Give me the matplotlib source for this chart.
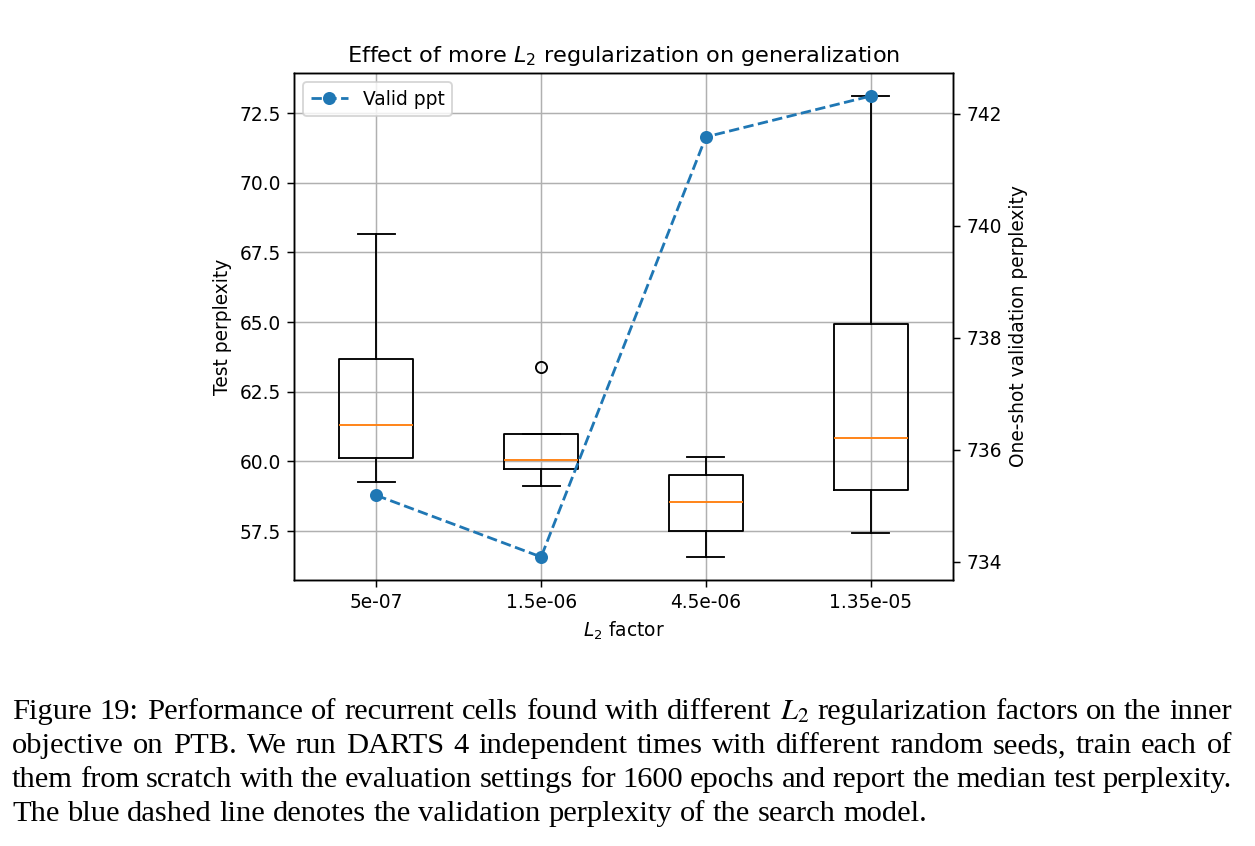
import numpy as np
import matplotlib
matplotlib.use("Agg")
import matplotlib.pyplot as plt

# L2 factors used for the search, test perplexity of 4 seeds each, one-shot valid ppl
factors = ["5e-07", "1.5e-06", "4.5e-06", "1.35e-05"]
test_ppl = [
    [59.26, 60.41, 62.17, 68.16],
    [59.12, 59.92, 60.18, 63.39],
    [56.57, 57.81, 59.29, 60.16],
    [57.43, 59.48, 62.20, 73.11],
]
valid_ppl = [735.19, 734.09, 741.59, 742.32]

caption = [
    "Figure 19: Performance of recurrent cells found with different $L_2$ regularization factors on the inner",
    "objective on PTB. We run DARTS 4 independent times with different random seeds, train each of",
    "them from scratch with the evaluation settings for 1600 epochs and report the median test perplexity.",
    "The blue dashed line denotes the validation perplexity of the search model.",
]

W, H, DPI = 1255, 846, 134
fig = plt.figure(figsize=(W / DPI, H / DPI), dpi=DPI)
ax = fig.add_axes([294 / W, 1 - 580 / H, (953 - 294) / W, (580 - 73) / H])

pos = np.arange(1, len(factors) + 1)
ax.boxplot(test_ppl, positions=pos)
ax.set_xticks(pos)
ax.set_xticklabels(factors)
ax.grid(True)
ax.set_xlabel("$L_2$ factor")
ax.set_ylabel("Test perplexity")
ax.set_title("Effect of more $L_2$ regularization on generalization")

ax2 = ax.twinx()
ax2.plot(pos, valid_ppl, "o--", label="Valid ppt")
ax2.set_ylabel("One-shot validation perplexity")
ax2.legend(loc="upper left")

# caption, justified word by word like the LaTeX original
fig.canvas.draw()
rend = fig.canvas.get_renderer()
x0, x1 = 12, 1232
baselines = [719, 753, 787, 821]
cap_size = 18.3 * 120 / DPI
for i, line in enumerate(caption):
    words = line.split(" ")
    texts = [fig.text(0, 0, w, fontsize=cap_size, family="Liberation Serif",
                      math_fontfamily="stix", va="baseline") for w in words]
    widths = [t.get_window_extent(rend).width for t in texts]
    space = cap_size * DPI / 72 * 0.25
    if i < len(caption) - 1:
        space = (x1 - x0 - sum(widths)) / (len(words) - 1)
    x = x0
    for t, w in zip(texts, widths):
        t.set_position((x / W, 1 - baselines[i] / H))
        x += w + space

fig.savefig("out.png", dpi=DPI)
